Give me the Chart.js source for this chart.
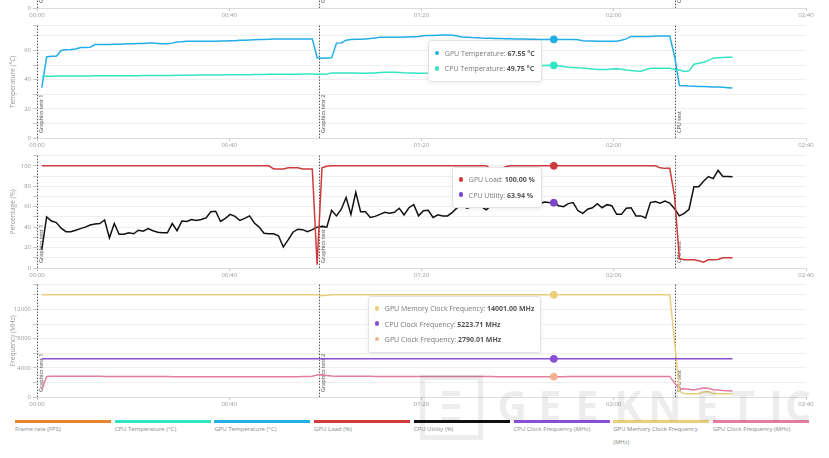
<!DOCTYPE html>
<html>
<head>
<meta charset="utf-8">
<script src="https://cdn.jsdelivr.net/npm/chart.js@4.4.0/dist/chart.umd.min.js"></script>
<style>
    body { margin: 0; background: #fff; width: 829px; height: 458px; overflow: hidden; position: relative; font-family: 'Open Sans', sans-serif; }
    .panel { position: absolute; left: 0; width: 829px; height: 129px; }
    .tip { position: absolute; background: #fff; border: 1px solid #e4e4e4; border-radius: 3px; box-shadow: 0 1px 4px rgba(0,0,0,.08); padding: 4.5px 6px; font: 7px 'Open Sans'; color: #777; white-space: nowrap; z-index: 5; }
    .tip .row { height: 15.3px; line-height: 15.3px; }
    .tip .dot { display: inline-block; width: 4.5px; height: 4.5px; border-radius: 50%; margin-right: 5.5px; vertical-align: middle; position: relative; top: -1px; }
    .tip b { color: #555; }
    .item { position: absolute; top: 419.5px; width: 96px; font: 6px 'Open Sans'; color: #888; line-height: 13px; }
    .item .bar { height: 3px; }
    #wm { position: absolute; left: 0; top: 0; pointer-events: none; z-index: 6; }
    #wm .box { position: absolute; left: 420px; top: 375px; width: 53px; height: 55px; border: 5px solid rgba(0,0,0,.07); }
    #wm .line { position: absolute; left: 442px; width: 18px; height: 5px; background: rgba(0,0,0,.07); }
    #wm span { position: absolute; top: 384px; width: 40px; text-align: center; font: bold 41px 'Open Sans'; line-height: 43px; color: rgba(0,0,0,.07); }
</style>
</head>
<body>
<div class="panel" style="top:-110px"><canvas id="chart_fps" width="829" height="129"></canvas></div>
<div class="panel" style="top:20px"><canvas id="chart_temp" width="829" height="129"></canvas></div>
<div class="panel" style="top:150px"><canvas id="chart_load" width="829" height="129"></canvas></div>
<div class="panel" style="top:279px"><canvas id="chart_freq" width="829" height="129"></canvas></div>
<div class="tip" id="tip_temp"></div>
<div class="tip" id="tip_load"></div>
<div class="tip" id="tip_freq"></div>
<div id="legend"></div>
<div id="wm">
    <div class="box"></div>
    <div class="line" style="top:391px"></div>
    <div class="line" style="top:404px"></div>
    <div class="line" style="top:417px"></div>
    <span style="left:492px">G</span><span style="left:530px">E</span><span style="left:567px">E</span>
    <span style="left:608px">K</span><span style="left:645px">N</span><span style="left:687px">E</span>
    <span style="left:723px">T</span><span style="left:756px">I</span><span style="left:778px">C</span>
</div>
<script>
// logger samples: first one at 1 s, then about one per second
const sampleStart = 1;
const sampleStep = 1.005;
const hoverIndex = 106;

const timeTicks = [0, 40, 80, 120, 160];
const eventNames = ['Graphics test 1', 'Graphics test 2', 'CPU test'];
const eventSeconds = [0, 58.7, 132.75];

const seriesNames = ['Frame rate (FPS)', 'CPU Temperature (°C)', 'GPU Temperature (°C)', 'GPU Load (%)',
    'CPU Utility (%)', 'CPU Clock Frequency (MHz)', 'GPU Memory Clock Frequency (MHz)', 'GPU Clock Frequency (MHz)'];
const seriesColors = ['#e8832e', '#33e4c2', '#22aee6', '#cf3b3b', '#111111', '#8a4fd3', '#e9cf7c', '#e47da2'];
const hoverColors = ['#e8832e', '#33e4c2', '#22aee6', '#cf3b3b', '#7a45c8', '#8a4fd3', '#e9cf7c', '#eeb48c'];

const fpsTicks = [0, 50, 100];
const fpsLabels = [0, 50, 100];
const tempTicks = [0, 10, 20, 30, 40, 50, 60, 70, 77];
const tempLabels = [0, 20, 40, 60];
const loadTicks = [0, 10, 20, 30, 40, 50, 60, 70, 80, 90, 100, 110];
const loadLabels = [0, 20, 40, 60, 80, 100];
const freqTicks = [0, 2000, 4000, 6000, 8000, 10000, 12000, 14000, 15400];
const freqLabels = [0, 4000, 8000, 12000];

const fpsValues = [];

const cpuTempValues = [
    42.2, 42.3, 42.3, 42.4, 42.4, 42.4, 42.5, 42.5, 42.5, 42.5,
    42.5, 42.6, 42.6, 42.6, 42.6, 42.6, 42.7, 42.7, 42.7, 42.7,
    42.7, 42.8, 42.8, 42.8, 42.8, 42.9, 42.9, 42.9, 43, 43,
    43, 43, 43.1, 43.1, 43.1, 43.2, 43.2, 43.2, 43.3, 43.3,
    43.3, 43.4, 43.4, 43.4, 43.5, 43.5, 43.5, 43.6, 43.6, 43.6,
    43.7, 43.7, 43.7, 43.7, 43.8, 43.8, 43.8, 43.7, 43.7, 43.8,
    44.6, 44.6, 44.6, 44.5, 44.5, 44.5, 44.4, 44.4, 44.5, 44.6,
    44.8, 45, 45.1, 45, 44.9, 44.7, 44.6, 44.5, 44.4, 44.4,
    44.5, 44.7, 45, 45.3, 45.6, 45.9, 46.2, 46.4, 46.7, 47,
    47.2, 47.4, 47.7, 47.9, 48.1, 48.3, 48.5, 48.7, 48.9, 49.1,
    49.3, 49.4, 49.6, 49.7, 49.7, 49.8, 49.75, 49.3, 48.9, 48.5,
    48.3, 48.1, 48, 47.6, 47.2, 47, 46.9, 47, 47.2, 47.4,
    47.1, 46.6, 46.2, 45.9, 45.8, 46.8, 47.8, 47.8, 47.8, 47.8,
    47.8, 47, 46.6, 45.6, 46, 50.5, 51.2, 51.9, 53.2, 54.7,
    55, 55.2, 55.3, 55.4
];

const gpuTempValues = [
    34.5, 55.5, 56, 56, 60, 60.5, 60.7, 61, 62, 62,
    62.2, 64, 64, 64, 64, 64.2, 64.3, 64.4, 64.5, 64.5,
    64.7, 64.8, 65, 65, 64.8, 64.6, 64.5, 65, 65.8, 66,
    66.3, 66.3, 66.3, 66.2, 66.2, 66.3, 66.3, 66.4, 66.5, 66.6,
    66.7, 66.9, 67, 67.2, 67.3, 67.4, 67.5, 67.6, 67.8, 67.9,
    67.9, 67.9, 67.9, 67.9, 67.9, 67.9, 67.9, 55, 54.7, 54.8,
    54.9, 65, 65.1, 67, 67.4, 67.6, 67.7, 67.9, 68.1, 68.5,
    69, 69, 69, 69, 69.1, 69.2, 69.2, 69.4, 69.6, 70,
    70.2, 70.3, 70.4, 70.5, 70.6, 70.4, 69.8, 69.2, 69, 68.8,
    68.7, 68.5, 68.4, 68.3, 68.2, 68.1, 68, 68, 67.9, 67.9,
    67.8, 67.7, 67.6, 67.5, 67.4, 67.5, 67.55, 67.5, 67.4, 67.4,
    67.4, 67.3, 66.7, 66.5, 66.4, 66.3, 66.3, 66.3, 66.3, 66.3,
    67, 67.9, 69.6, 69.6, 69.5, 69.5, 69.6, 69.8, 69.9, 69.9,
    69.9, 56, 36, 35.8, 35.6, 35.5, 35.3, 35.2, 35.1, 35,
    34.9, 34.7, 34.5, 34.2
];

const gpuLoadValues = [
    100, 100, 100, 100, 100, 100, 100, 100, 100, 100, 100, 100,
    100, 100, 100, 100, 100, 100, 100, 100, 100, 100, 100, 100,
    100, 100, 100, 100, 100, 100, 100, 100, 100, 100, 100, 100,
    100, 100, 100, 100, 100, 100, 100, 100, 100, 100, 100, 100,
    97, 97, 97, 98, 98, 98, 97, 97, 97, 3.2, 98, 99.5,
    100, 100, 100, 100, 100, 100, 100, 100, 100, 100, 100, 100,
    100, 100, 100, 100, 100, 100, 100, 100, 100, 100, 100, 100,
    100, 100, 100, 100, 100, 100, 100, 100, 100, 97, 97, 97,
    99, 100, 100, 100, 100, 100, 100, 100, 100, 100, 100, 100,
    100, 100, 100, 100, 100, 100, 100, 100, 100, 100, 100, 100,
    100, 100, 100, 100, 100, 100, 100, 100, 98, 97.5, 97.5, 70,
    9, 8, 8, 8, 7, 5.7, 8, 8, 8.4, 10, 10, 10
];

const cpuUtilValues = [
    18, 50, 46, 44.5, 39, 35.5, 35.5, 37, 38.5, 40,
    42, 43, 43.5, 47, 29.5, 43.5, 33, 33, 34.5, 33.5,
    37, 36, 38.5, 36.5, 35, 34.5, 34.5, 43.5, 36.5, 46,
    45.5, 47.5, 46.5, 47.5, 49, 55, 55.5, 45.5, 48.5, 52.5,
    50.5, 46.5, 48.5, 51, 44, 40, 34, 33.5, 33.5, 31.5,
    20.5, 27.5, 35, 38, 37.5, 35.5, 37.5, 40, 40.5, 40,
    56.5, 51, 57.5, 69, 52.5, 74, 55, 55, 49.5, 50.5,
    52.5, 54.5, 53.5, 54.5, 58.5, 52, 59, 62, 51, 56,
    56.5, 49.5, 52, 51, 51, 54.5, 59, 61, 58.5, 60,
    62.5, 60, 57, 61, 63, 60, 62, 64.5, 61, 63,
    60.5, 62, 64, 62.5, 64.5, 64, 63.94, 61, 60, 63,
    64, 56, 53.5, 57.5, 59, 63, 59, 62, 61, 52.5,
    52.5, 58.5, 59, 51, 51, 49, 64, 65, 63.5, 65.5,
    63.5, 58, 51, 53.5, 57.5, 79.5, 79.5, 85, 89.5, 87.5,
    95.5, 89.5, 89.5, 89.3
];

const cpuClockValues = [
    5223.71, 5223.71, 5223.71, 5223.71, 5223.71, 5223.71, 5223.71, 5223.71, 5223.71, 5223.71, 5223.71, 5223.71,
    5223.71, 5223.71, 5223.71, 5223.71, 5223.71, 5223.71, 5223.71, 5223.71, 5223.71, 5223.71, 5223.71, 5223.71,
    5223.71, 5223.71, 5223.71, 5223.71, 5223.71, 5223.71, 5223.71, 5223.71, 5223.71, 5223.71, 5223.71, 5223.71,
    5223.71, 5223.71, 5223.71, 5223.71, 5223.71, 5223.71, 5223.71, 5223.71, 5223.71, 5223.71, 5223.71, 5223.71,
    5223.71, 5223.71, 5223.71, 5223.71, 5223.71, 5223.71, 5223.71, 5223.71, 5223.71, 5223.71, 5223.71, 5223.71,
    5223.71, 5223.71, 5223.71, 5223.71, 5223.71, 5223.71, 5223.71, 5223.71, 5223.71, 5223.71, 5223.71, 5223.71,
    5223.71, 5223.71, 5223.71, 5223.71, 5223.71, 5223.71, 5223.71, 5223.71, 5223.71, 5223.71, 5223.71, 5223.71,
    5223.71, 5223.71, 5223.71, 5223.71, 5223.71, 5223.71, 5223.71, 5223.71, 5223.71, 5223.71, 5223.71, 5223.71,
    5223.71, 5223.71, 5223.71, 5223.71, 5223.71, 5223.71, 5223.71, 5223.71, 5223.71, 5223.71, 5223.71, 5223.71,
    5223.71, 5223.71, 5223.71, 5223.71, 5223.71, 5223.71, 5223.71, 5223.71, 5223.71, 5223.71, 5223.71, 5223.71,
    5223.71, 5223.71, 5223.71, 5223.71, 5223.71, 5223.71, 5223.71, 5223.71, 5223.71, 5223.71, 5223.71, 5223.71,
    5223.71, 5223.71, 5223.71, 5223.71, 5223.71, 5223.71, 5223.71, 5223.71, 5223.71, 5223.71, 5223.71, 5223.71
];

const gpuMemValues = [
    14001, 14001, 14001, 14001, 14001, 14001, 14001, 14001, 14001, 14001, 14001, 14001,
    14001, 14001, 14001, 14001, 14001, 14001, 14001, 14001, 14001, 14001, 14001, 14001,
    14001, 14001, 14001, 14001, 14001, 14001, 14001, 14001, 14001, 14001, 14001, 14001,
    14001, 14001, 14001, 14001, 14001, 14001, 14001, 14001, 14001, 14001, 14001, 14001,
    14001, 14001, 14001, 14001, 14001, 14001, 14001, 14001, 14001, 14001, 13880, 13950,
    14001, 14001, 14001, 14001, 14001, 14001, 14001, 14001, 14001, 14001, 14001, 14001,
    14001, 14001, 14001, 14001, 14001, 14001, 14001, 14001, 14001, 14001, 14001, 14001,
    14001, 14001, 14001, 14001, 14001, 14001, 14001, 14001, 14001, 14001, 14001, 14001,
    14001, 14001, 14001, 14001, 14001, 14001, 14001, 14001, 14001, 14001, 14001, 14001,
    14001, 14001, 14001, 14001, 14001, 14001, 14001, 14001, 14001, 14001, 14001, 14001,
    14001, 14001, 14001, 14001, 14001, 14001, 14001, 14001, 14001, 14001, 14001, 7600,
    780, 450, 450, 450, 460, 700, 760, 470, 450, 450, 450, 450
];

const gpuClockValues = [
    1000, 2820, 2850, 2860, 2860, 2850, 2850, 2845, 2840, 2840,
    2835, 2830, 2830, 2825, 2820, 2820, 2815, 2815, 2810, 2810,
    2805, 2805, 2800, 2800, 2800, 2795, 2795, 2790, 2790, 2790,
    2785, 2785, 2785, 2780, 2780, 2780, 2775, 2775, 2775, 2770,
    2770, 2770, 2770, 2765, 2765, 2765, 2765, 2760, 2760, 2760,
    2760, 2760, 2780, 2790, 2800, 2820, 2850, 3000, 3040, 2950,
    2880, 2860, 2850, 2850, 2840, 2840, 2835, 2830, 2830, 2825,
    2825, 2820, 2820, 2815, 2815, 2810, 2810, 2810, 2805, 2805,
    2805, 2800, 2800, 2800, 2800, 2800, 2795, 2795, 2795, 2795,
    2795, 2795, 2795, 2795, 2790, 2790, 2790, 2790, 2790, 2790,
    2790, 2790, 2790, 2790, 2790, 2790, 2790.01, 2790, 2790, 2795,
    2795, 2795, 2800, 2800, 2800, 2805, 2805, 2805, 2810, 2810,
    2810, 2815, 2815, 2815, 2820, 2820, 2820, 2820, 2825, 2825,
    2825, 1900, 1100, 1140, 1050, 950, 1100, 1230, 1200, 1000,
    950, 880, 850, 820
];

const seriesValues = [fpsValues, cpuTempValues, gpuTempValues, gpuLoadValues,
    cpuUtilValues, cpuClockValues, gpuMemValues, gpuClockValues];

const font = { family: 'Open Sans', size: 6 };

function mmss(sec) {
    const m = Math.floor(sec / 60), s = Math.round(sec % 60);
    return String(m).padStart(2, '0') + ':' + String(s).padStart(2, '0');
}

function toPoints(values) {
    return values.map((v, k) => ({ x: sampleStart + k * sampleStep, y: v }));
}

// dashed markers for each test start, label rotated at the bottom
const eventLines = {
    id: 'eventLines',
    beforeDatasetsDraw(chart) {
        const { ctx, chartArea: { top, bottom }, scales: { x } } = chart;
        ctx.save();
        eventSeconds.forEach((sec, i) => {
            const px = Math.round(x.getPixelForValue(sec)) + 0.5;
            ctx.strokeStyle = '#555';
            ctx.lineWidth = 1;
            ctx.setLineDash([1.5, 1.5]);
            ctx.beginPath();
            ctx.moveTo(px, top);
            ctx.lineTo(px, bottom);
            ctx.stroke();
            ctx.save();
            ctx.translate(px + 4, bottom - 5);
            ctx.rotate(-Math.PI / 2);
            ctx.fillStyle = '#444';
            ctx.font = '5.5px "Open Sans"';
            ctx.textAlign = 'left';
            ctx.textBaseline = 'middle';
            ctx.fillText(eventNames[i], 0, 0);
            ctx.restore();
        });
        ctx.restore();
    }
};

function makePanel(id, yTitle, yTicks, yLabels, series) {
    const datasets = series.map(i => ({
        label: seriesNames[i],
        data: toPoints(seriesValues[i]),
        borderColor: seriesColors[i],
        backgroundColor: seriesColors[i],
        borderWidth: 1.5,
        pointRadius: 0,
        pointHoverRadius: 3.5,
        pointHoverBorderWidth: 1,
        pointHoverBackgroundColor: hoverColors[i],
        pointHoverBorderColor: hoverColors[i],
        tension: 0
    }));
    return new Chart(document.getElementById(id), {
        type: 'line',
        data: { datasets },
        plugins: [eventLines],
        options: {
            responsive: false,
            animation: false,
            events: [],
            layout: { padding: { top: 5, right: 23, left: 0, bottom: 0 } },
            plugins: { legend: { display: false }, tooltip: { enabled: false } },
            scales: {
                x: {
                    type: 'linear',
                    min: 0,
                    max: 160,
                    afterBuildTicks: axis => { axis.ticks = timeTicks.map(v => ({ value: v })); },
                    afterFit: axis => { axis.height = 11; },
                    grid: { drawOnChartArea: false, tickLength: 3, tickColor: '#c8c8c8' },
                    border: { color: '#dcdcdc' },
                    ticks: { autoSkip: false, maxRotation: 0, padding: 1, color: '#999', font, callback: v => mmss(v) }
                },
                y: {
                    min: 0,
                    max: yTicks[yTicks.length - 1],
                    afterBuildTicks: axis => { axis.ticks = yTicks.map(v => ({ value: v })); },
                    afterFit: axis => { axis.width = 37; },
                    title: { display: true, text: yTitle, color: '#999', font: { family: 'Open Sans', size: 6.5 }, padding: { top: 9, bottom: 0 } },
                    grid: { color: '#efefef', tickLength: 4, tickColor: '#c8c8c8' },
                    border: { display: false },
                    ticks: { autoSkip: false, padding: 2, color: '#999', font, callback: v => yLabels.includes(v) ? String(v) : '' }
                }
            }
        }
    });
}

function showTip(chart, tipId, panelTop, unit) {
    chart.setActiveElements(chart.data.datasets.map((d, i) => ({ datasetIndex: i, index: hoverIndex })));
    chart.update();
    const rows = chart.data.datasets.map((ds, i) => {
        const pt = chart.getDatasetMeta(i).data[hoverIndex];
        return { name: ds.label.replace(/ \([^)]*\)$/, ''), value: ds.data[hoverIndex].y, color: ds.pointHoverBackgroundColor, x: pt.x, y: pt.y };
    }).sort((a, b) => b.value - a.value);
    const tip = document.getElementById(tipId);
    tip.innerHTML = rows.map(r =>
        '<div class="row"><span class="dot" style="background:' + r.color + '"></span>' + r.name + ': <b>' + r.value.toFixed(2) + ' ' + unit + '</b></div>'
    ).join('');
    tip.style.left = (rows[0].x - 12 - tip.offsetWidth) + 'px';
    tip.style.top = (panelTop + Math.min(...rows.map(r => r.y)) + 1) + 'px';
}

makePanel('chart_fps', 'Frame rate (FPS)', fpsTicks, fpsLabels, [0]);
const tempChart = makePanel('chart_temp', 'Temperature (°C)', tempTicks, tempLabels, [1, 2]);
const loadChart = makePanel('chart_load', 'Percentage (%)', loadTicks, loadLabels, [3, 4]);
const freqChart = makePanel('chart_freq', 'Frequency (MHz)', freqTicks, freqLabels, [5, 6, 7]);

showTip(tempChart, 'tip_temp', 20, '°C');
showTip(loadChart, 'tip_load', 150, '%');
showTip(freqChart, 'tip_freq', 279, 'MHz');

const legend = document.getElementById('legend');
seriesNames.forEach((name, i) => {
    const item = document.createElement('div');
    item.className = 'item';
    item.style.left = (15 + i * 99.7) + 'px';
    item.innerHTML = '<div class="bar" style="background:' + seriesColors[i] + '"></div>' + name;
    legend.appendChild(item);
});
</script>
</body>
</html>
